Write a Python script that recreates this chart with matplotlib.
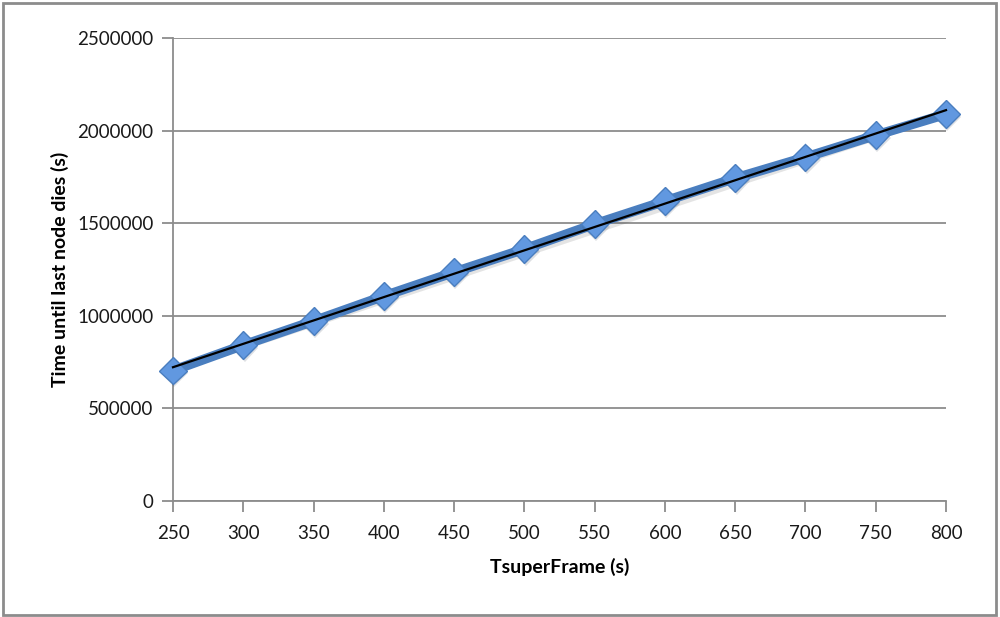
import numpy as np
import matplotlib.pyplot as plt
import matplotlib.patheffects as pe
from matplotlib.patches import Rectangle
from matplotlib.ticker import StrMethodFormatter

plt.rcParams['font.family'] = ['Lato', 'DejaVu Sans']

# Lifetime of the network vs superframe length
tsuperframe = [250, 300, 350, 400, 450, 500, 550, 600, 650, 700, 750, 800]
time_last_node = [705000, 842000, 972000, 1107000, 1236000, 1361000,
                  1496000, 1620000, 1744000, 1857000, 1976000, 2090000]

fig = plt.figure(figsize=(10, 6.17), dpi=100)
ax = fig.add_axes([0.173, 0.188, 0.773, 0.75])

shadow = [pe.SimplePatchShadow(offset=(1, -2), alpha=0.15), pe.Normal()]
ax.plot(tsuperframe, time_last_node, color='#4a7ebf', lw=7, marker='D',
        markersize=14, markerfacecolor='#6198e0', markeredgecolor='#4a7ebf',
        markeredgewidth=1, solid_capstyle='round', path_effects=shadow,
        zorder=3, clip_on=False)

# linear trendline
coef = np.polyfit(tsuperframe, time_last_node, 1)
xs = np.array([tsuperframe[0], tsuperframe[-1]])
ax.plot(xs, np.polyval(coef, xs), color='black', lw=1.6, zorder=4, clip_on=False)

ax.set_xlim(250, 800)
ax.set_ylim(0, 2500000)
ax.set_xticks(tsuperframe)
ax.set_yticks(np.arange(0, 2500001, 500000))
ax.yaxis.set_major_formatter(StrMethodFormatter('{x:.0f}'))
ax.yaxis.grid(True, color='#8c8c8c', lw=1.3)
ax.set_axisbelow(True)

for s in ['top', 'right']:
    ax.spines[s].set_visible(False)
for s in ['left', 'bottom']:
    ax.spines[s].set_color('#8c8c8c')
    ax.spines[s].set_linewidth(1.3)
ax.tick_params(direction='out', length=8, width=1.3, color='#8c8c8c',
               labelsize=13.5, labelcolor='#1a1a1a', pad=6)
ax.tick_params(axis='x', pad=9)
ax.set_xlabel('TsuperFrame (s)', fontsize=14, fontweight='bold', labelpad=12)
ax.set_ylabel('Time until last node dies (s)', fontsize=14, fontweight='bold', labelpad=6)

fig.patches.append(Rectangle((0.003, 0.004), 0.993, 0.991, transform=fig.transFigure,
                             fill=False, edgecolor='#8c8c8c', lw=2))

fig.savefig('out.png', dpi=100)
